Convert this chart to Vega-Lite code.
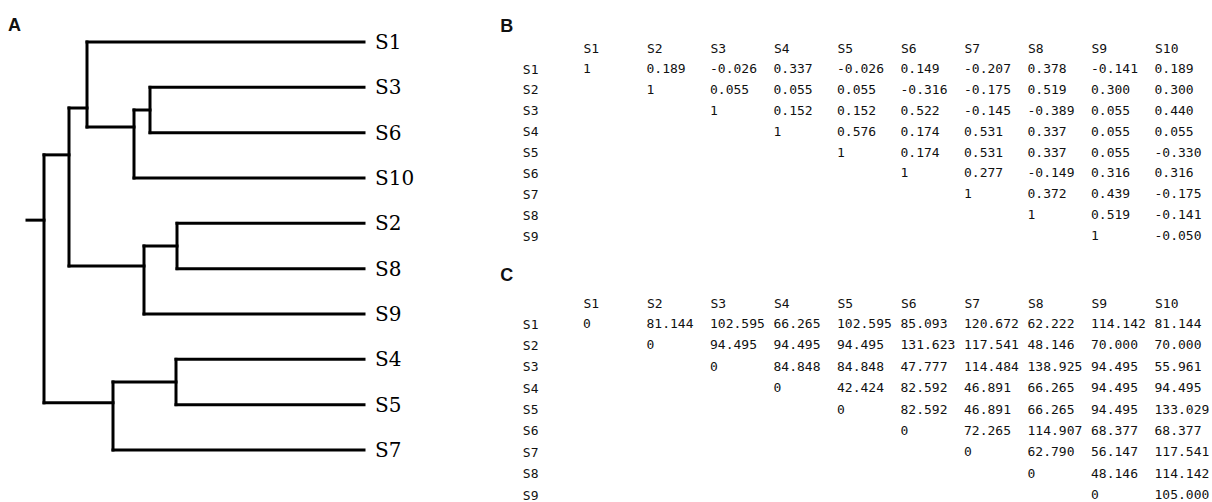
{
  "$schema": "https://vega.github.io/schema/vega-lite/v6.json",
  "padding": {"left": 0, "top": 16, "right": 0, "bottom": 0},
  "background": "white",
  "config": {
    "view": {"stroke": null},
    "locale": {"number": {"decimal": ".", "thousands": ",", "grouping": [3], "currency": ["$", ""], "minus": "-"}},
    "axis": {"domain": false, "ticks": false, "tickSize": 0, "grid": false, "labelFont": "DejaVu Sans Mono", "labelFontSize": 13, "labelColor": "#111", "labelOverlap": false},
    "title": {"font": "Liberation Sans", "fontSize": 18, "fontWeight": "bold", "color": "#111", "anchor": "start", "baseline": "top"}
  },
  "datasets": {
    "tree": [
      {"leaf": "S1", "h1": 0, "h2": 277, "y1": 1, "y2": 1},
      {"leaf": "S3", "h1": 0, "h2": 214, "y1": 2, "y2": 2},
      {"leaf": "S6", "h1": 0, "h2": 214, "y1": 3, "y2": 3},
      {"leaf": "S10", "h1": 0, "h2": 230, "y1": 4, "y2": 4},
      {"leaf": "S2", "h1": 0, "h2": 187, "y1": 5, "y2": 5},
      {"leaf": "S8", "h1": 0, "h2": 187, "y1": 6, "y2": 6},
      {"leaf": "S9", "h1": 0, "h2": 220, "y1": 7, "y2": 7},
      {"leaf": "S4", "h1": 0, "h2": 188, "y1": 8, "y2": 8},
      {"leaf": "S5", "h1": 0, "h2": 188, "y1": 9, "y2": 9},
      {"leaf": "S7", "h1": 0, "h2": 251, "y1": 10, "y2": 10},
      {"h1": 214, "h2": 214, "y1": 2, "y2": 3},
      {"h1": 214, "h2": 230, "y1": 2.5, "y2": 2.5},
      {"h1": 230, "h2": 230, "y1": 2.5, "y2": 4},
      {"h1": 230, "h2": 277, "y1": 2.875, "y2": 2.875},
      {"h1": 277, "h2": 277, "y1": 1, "y2": 2.875},
      {"h1": 277, "h2": 295, "y1": 2.456, "y2": 2.456},
      {"h1": 187, "h2": 187, "y1": 5, "y2": 6},
      {"h1": 187, "h2": 220, "y1": 5.5, "y2": 5.5},
      {"h1": 220, "h2": 220, "y1": 5.5, "y2": 7},
      {"h1": 220, "h2": 295, "y1": 5.94, "y2": 5.94},
      {"h1": 295, "h2": 295, "y1": 2.456, "y2": 5.94},
      {"h1": 295, "h2": 320, "y1": 3.49, "y2": 3.49},
      {"h1": 188, "h2": 188, "y1": 8, "y2": 9},
      {"h1": 188, "h2": 251, "y1": 8.5, "y2": 8.5},
      {"h1": 251, "h2": 251, "y1": 8.5, "y2": 10},
      {"h1": 251, "h2": 320, "y1": 8.96, "y2": 8.96},
      {"h1": 320, "h2": 320, "y1": 3.49, "y2": 8.96},
      {"h1": 320, "h2": 337, "y1": 4.93, "y2": 4.93}
    ],
    "corr": [
      {"row": "S1", "S1": 1, "S2": 0.189, "S3": -0.026, "S4": 0.337, "S5": -0.026, "S6": 0.149, "S7": -0.207, "S8": 0.378, "S9": -0.141, "S10": 0.189},
      {"row": "S2", "S2": 1, "S3": 0.055, "S4": 0.055, "S5": 0.055, "S6": -0.316, "S7": -0.175, "S8": 0.519, "S9": 0.300, "S10": 0.300},
      {"row": "S3", "S3": 1, "S4": 0.152, "S5": 0.152, "S6": 0.522, "S7": -0.145, "S8": -0.389, "S9": 0.055, "S10": 0.440},
      {"row": "S4", "S4": 1, "S5": 0.576, "S6": 0.174, "S7": 0.531, "S8": 0.337, "S9": 0.055, "S10": 0.055},
      {"row": "S5", "S5": 1, "S6": 0.174, "S7": 0.531, "S8": 0.337, "S9": 0.055, "S10": -0.330},
      {"row": "S6", "S6": 1, "S7": 0.277, "S8": -0.149, "S9": 0.316, "S10": 0.316},
      {"row": "S7", "S7": 1, "S8": 0.372, "S9": 0.439, "S10": -0.175},
      {"row": "S8", "S8": 1, "S9": 0.519, "S10": -0.141},
      {"row": "S9", "S9": 1, "S10": -0.050}
    ],
    "dist": [
      {"row": "S1", "S1": 0, "S2": 81.144, "S3": 102.595, "S4": 66.265, "S5": 102.595, "S6": 85.093, "S7": 120.672, "S8": 62.222, "S9": 114.142, "S10": 81.144},
      {"row": "S2", "S2": 0, "S3": 94.495, "S4": 94.495, "S5": 94.495, "S6": 131.623, "S7": 117.541, "S8": 48.146, "S9": 70.000, "S10": 70.000},
      {"row": "S3", "S3": 0, "S4": 84.848, "S5": 84.848, "S6": 47.777, "S7": 114.484, "S8": 138.925, "S9": 94.495, "S10": 55.961},
      {"row": "S4", "S4": 0, "S5": 42.424, "S6": 82.592, "S7": 46.891, "S8": 66.265, "S9": 94.495, "S10": 94.495},
      {"row": "S5", "S5": 0, "S6": 82.592, "S7": 46.891, "S8": 66.265, "S9": 94.495, "S10": 133.029},
      {"row": "S6", "S6": 0, "S7": 72.265, "S8": 114.907, "S9": 68.377, "S10": 68.377},
      {"row": "S7", "S7": 0, "S8": 62.790, "S9": 56.147, "S10": 117.541},
      {"row": "S8", "S8": 0, "S9": 48.146, "S10": 114.142},
      {"row": "S9", "S9": 0, "S10": 105.000}
    ]
  },
  "hconcat": [
    {
      "title": {"text": "A", "frame": "group", "dx": 8, "offset": -1.5},
      "width": 480,
      "height": 434,
      "data": {"name": "tree"},
      "encoding": {
        "x": {"field": "h1", "type": "quantitative", "scale": {"domain": [364, -116], "zero": false, "nice": false}, "axis": null},
        "y": {"field": "y1", "type": "quantitative", "scale": {"domain": [1.5956, 11.17], "reverse": true, "zero": false, "nice": false}, "axis": null}
      },
      "layer": [
        {
          "mark": {"type": "rule", "strokeWidth": 3, "color": "#000", "strokeCap": "square"},
          "encoding": {"x2": {"field": "h2"}, "y2": {"field": "y2"}}
        },
        {
          "transform": [{"filter": "isValid(datum.leaf)"}],
          "mark": {"type": "text", "align": "left", "baseline": "middle", "dx": 11, "dy": 1, "font": "DejaVu Serif", "fontSize": 20, "color": "#000"},
          "encoding": {"text": {"field": "leaf"}}
        }
      ]
    },
    {
      "vconcat": [
        {
          "title": {"text": "B", "frame": "bounds", "dx": -22, "offset": 6},
          "width": 571.5,
          "height": 167,
          "data": {"name": "corr"},
          "transform": [
            {"fold": ["S1", "S2", "S3", "S4", "S5", "S6", "S7", "S8", "S9", "S10"], "as": ["col", "value"]},
            {"filter": "isValid(datum.value)"}
          ],
          "encoding": {
            "x": {"field": "col", "type": "ordinal", "scale": {"type": "point", "padding": 0, "domain": ["S1", "S2", "S3", "S4", "S5", "S6", "S7", "S8", "S9", "S10"]}, "axis": {"orient": "top", "title": null, "labelAlign": "left", "labelBaseline": "middle", "labelAngle": 0, "labelPadding": 21}},
            "y": {"field": "row", "type": "ordinal", "scale": {"type": "point", "padding": 0, "domain": ["S1", "S2", "S3", "S4", "S5", "S6", "S7", "S8", "S9"]}, "axis": {"title": null, "labelPadding": 45}}
          },
          "layer": [
            {
              "transform": [{"filter": "datum.row !== datum.col"}],
              "mark": {"type": "text", "align": "left", "baseline": "middle", "font": "DejaVu Sans Mono", "fontSize": 13, "color": "#111"},
              "encoding": {"text": {"field": "value", "format": ".3f"}}
            },
            {
              "transform": [{"filter": "datum.row === datum.col"}],
              "mark": {"type": "text", "align": "left", "baseline": "middle", "font": "DejaVu Sans Mono", "fontSize": 13, "color": "#111"},
              "encoding": {"text": {"field": "value", "format": "d"}}
            }
          ]
        },
        {
          "title": {"text": "C", "frame": "bounds", "dx": -22, "offset": 12},
          "width": 571.5,
          "height": 171,
          "data": {"name": "dist"},
          "transform": [
            {"fold": ["S1", "S2", "S3", "S4", "S5", "S6", "S7", "S8", "S9", "S10"], "as": ["col", "value"]},
            {"filter": "isValid(datum.value)"}
          ],
          "encoding": {
            "x": {"field": "col", "type": "ordinal", "scale": {"type": "point", "padding": 0, "domain": ["S1", "S2", "S3", "S4", "S5", "S6", "S7", "S8", "S9", "S10"]}, "axis": {"orient": "top", "title": null, "labelAlign": "left", "labelBaseline": "middle", "labelAngle": 0, "labelPadding": 21}},
            "y": {"field": "row", "type": "ordinal", "scale": {"type": "point", "padding": 0, "domain": ["S1", "S2", "S3", "S4", "S5", "S6", "S7", "S8", "S9"]}, "axis": {"title": null, "labelPadding": 45}}
          },
          "layer": [
            {
              "transform": [{"filter": "datum.row !== datum.col"}],
              "mark": {"type": "text", "align": "left", "baseline": "middle", "font": "DejaVu Sans Mono", "fontSize": 13, "color": "#111"},
              "encoding": {"text": {"field": "value", "format": ".3f"}}
            },
            {
              "transform": [{"filter": "datum.row === datum.col"}],
              "mark": {"type": "text", "align": "left", "baseline": "middle", "font": "DejaVu Sans Mono", "fontSize": 13, "color": "#111"},
              "encoding": {"text": {"field": "value", "format": "d"}}
            }
          ]
        }
      ],
      "spacing": 24
    }
  ],
  "spacing": 20
}
